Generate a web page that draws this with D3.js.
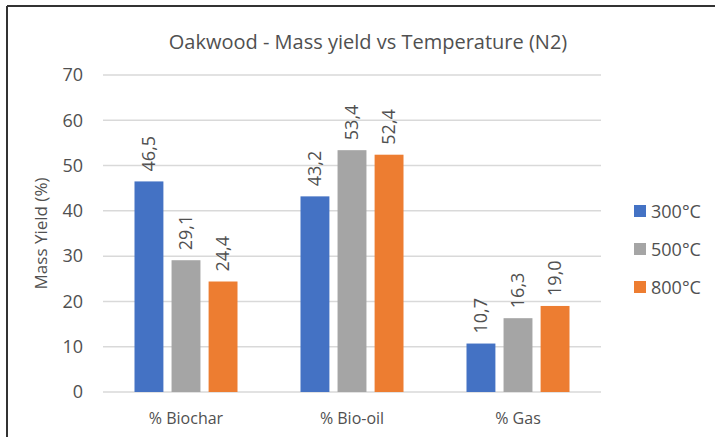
<!DOCTYPE html>
<html lang="en">
  <head>
    <meta charset="utf-8">
    <title>Oakwood - Mass yield vs Temperature (N2)</title>
    <script src="https://d3js.org/d3.v7.min.js"></script>
    <style>
      body { margin: 0; background: #fff; }
      text { font-family: "Open Sans", sans-serif; fill: #505050; }
    </style>
  </head>
  <body>
    <script>
      var categories = ["% Biochar", "% Bio-oil", "% Gas"];
      var series = ["300°C", "500°C", "800°C"];
      var colors = ["#4472C4", "#A5A5A5", "#ED7D31"];
      var values300 = [46.5, 43.2, 10.7];
      var values500 = [29.1, 53.4, 16.3];
      var values800 = [24.4, 52.4, 19.0];
      var yTicks = [0, 10, 20, 30, 40, 50, 60, 70];

      var width = 715, height = 437;
      var margin = {top: 75, left: 103, right: 114, bottom: 45};

      var svg = d3.select("body").append("svg")
        .attr("width", width)
        .attr("height", height);

      // frame (only top and left edges show)
      svg.append("line").attr("x1", 7).attr("x2", width).attr("y1", 6).attr("y2", 6)
        .attr("stroke", "#333").attr("stroke-width", 2);
      svg.append("line").attr("x1", 7).attr("x2", 7).attr("y1", 6).attr("y2", height)
        .attr("stroke", "#333").attr("stroke-width", 2);

      var y = d3.scaleLinear().domain([0, 70]).range([height - margin.bottom, margin.top]);
      var x0 = d3.scaleBand().domain(categories).range([margin.left, width - margin.right]);
      var x1 = d3.scaleBand().domain(series).range([0, 103]).paddingInner(0.22);

      // grid lines
      svg.append("g").selectAll("line").data(yTicks).enter().append("line")
        .attr("x1", margin.left).attr("x2", width - margin.right)
        .attr("y1", function(d) { return y(d); })
        .attr("y2", function(d) { return y(d); })
        .attr("stroke", "#D9D9D9").attr("stroke-width", 1.5);

      var yAxis = svg.append("g")
        .attr("transform", "translate(" + (margin.left - 17) + ",0)")
        .call(d3.axisLeft(y).tickValues(yTicks).tickSize(0).tickPadding(3));
      yAxis.select(".domain").remove();
      yAxis.selectAll("text").style("font-size", "18px").attr("fill", "#505050")
        .style("font-family", "Open Sans, sans-serif");

      var rows = [values300, values500, values800];

      var groups = svg.append("g").selectAll("g").data(categories).enter().append("g")
        .attr("transform", function(d) {
          return "translate(" + (x0(d) + x0.bandwidth() / 2 - 51.5) + ",0)";
        });

      function cells(c, ci) {
        return series.map(function(s, si) { return {s: s, si: si, v: rows[si][ci]}; });
      }

      groups.selectAll("rect").data(cells).enter().append("rect")
        .attr("x", function(d) { return x1(d.s); })
        .attr("y", function(d) { return y(d.v); })
        .attr("width", x1.bandwidth())
        .attr("height", function(d) { return y(0) - y(d.v); })
        .attr("fill", function(d) { return colors[d.si]; });

      groups.selectAll("text.lbl").data(cells).enter().append("text")
        .attr("class", "lbl")
        .attr("transform", function(d) {
          return "translate(" + (x1(d.s) + x1.bandwidth() / 2 + 6) + "," + (y(d.v) - 10) + ") rotate(-90)";
        })
        .style("font-size", "18px")
        .attr("fill", "#404040")
        .text(function(d) { return d.v.toFixed(1).replace(".", ","); });

      // category labels
      svg.append("g").selectAll("text").data(categories).enter().append("text")
        .attr("x", function(d) { return x0(d) + x0.bandwidth() / 2; })
        .attr("y", height - margin.bottom + 32)
        .attr("text-anchor", "middle")
        .style("font-size", "16px")
        .text(function(d) { return d; });

      // title
      svg.append("text")
        .attr("x", 368).attr("y", 49)
        .attr("text-anchor", "middle")
        .style("font-size", "20px")
        .attr("fill", "#404040")
        .text("Oakwood - Mass yield vs Temperature (N2)");

      // y axis title
      svg.append("text")
        .attr("transform", "translate(47," + ((margin.top + height - margin.bottom) / 2) + ") rotate(-90)")
        .attr("text-anchor", "middle")
        .style("font-size", "17px")
        .attr("fill", "#404040")
        .text("Mass Yield (%)");

      // legend
      var legend = svg.append("g").selectAll("g").data(series).enter().append("g")
        .attr("transform", function(d, i) { return "translate(634," + (211 + i * 38) + ")"; });
      legend.append("rect").attr("x", 0).attr("y", -6).attr("width", 12).attr("height", 12)
        .attr("fill", function(d, i) { return colors[i]; });
      legend.append("text").attr("x", 17).attr("y", 7)
        .style("font-size", "18px")
        .text(function(d) { return d; });
    </script>
  </body>
</html>
